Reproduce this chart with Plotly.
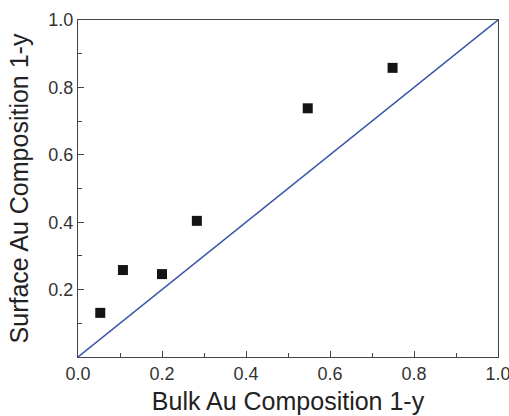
import plotly.graph_objects as go

bulk = [0.053, 0.107, 0.200, 0.283, 0.547, 0.749]
surface = [0.131, 0.258, 0.246, 0.404, 0.738, 0.858]
line_x = [0.0, 1.0]
line_y = [0.0, 1.0]
x_ticks = [0.0, 0.2, 0.4, 0.6, 0.8, 1.0]
y_ticks = [0.2, 0.4, 0.6, 0.8, 1.0]

fig = go.Figure()
fig.add_trace(go.Scatter(x=line_x, y=line_y, mode="lines",
                         line=dict(color="#3b56a8", width=1.5), showlegend=False))
fig.add_trace(go.Scatter(x=bulk, y=surface, mode="markers",
                         marker=dict(symbol="square", size=10, color="#141414"),
                         showlegend=False))

FONT = "Liberation Sans, Arial"
axis_common = dict(
    range=[0, 1], tickformat=".1f", automargin=False,
    ticks="inside", ticklen=6, tickwidth=1, tickcolor="#444",
    showline=True, linecolor="#444", linewidth=1, mirror=True,
    showgrid=False, zeroline=False, ticklabeloverflow="allow",
    tickfont=dict(family=FONT, size=18, color="#333"),
    minor=dict(ticks="inside", ticklen=4, dtick=0.1, tick0=0, tickcolor="#444", showgrid=False),
)

fig.update_layout(
    width=509, height=416,
    margin=dict(l=78, r=11, t=20, b=59),
    paper_bgcolor="white", plot_bgcolor="white",
    xaxis=dict(**axis_common, tickmode="array", tickvals=x_ticks,
               title=dict(text="Bulk Au Composition 1-y",
                          font=dict(family=FONT, size=25, color="#222"),
                          standoff=9)),
    yaxis=dict(**axis_common, tickmode="array", tickvals=y_ticks,
               title=dict(text="Surface Au Composition 1-y",
                          font=dict(family=FONT, size=25, color="#222"),
                          standoff=12)),
)

fig.write_html("out.html")
